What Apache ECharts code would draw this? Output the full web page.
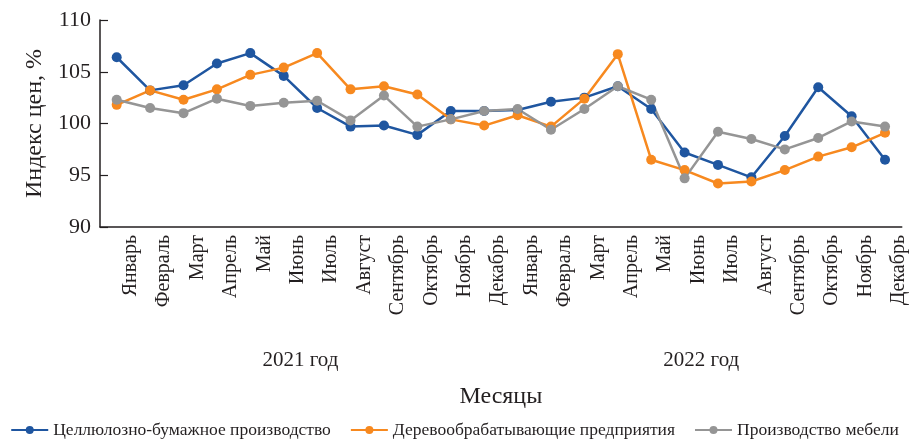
<!DOCTYPE html>
<html>
<head>
<meta charset="utf-8">
<script src="https://cdn.jsdelivr.net/npm/echarts@6/dist/echarts.min.js"></script>
<style>html,body{margin:0;padding:0;background:#fff}#c{width:909px;height:442px}</style>
</head>
<body>
<div id="c"></div>
<script>
var months = ['Январь','Февраль','Март','Апрель','Май','Июнь','Июль','Август','Сентябрь','Октябрь','Ноябрь','Декабрь',
              'Январь','Февраль','Март','Апрель','Май','Июнь','Июль','Август','Сентябрь','Октябрь','Ноябрь','Декабрь'];
var years = ['2021 год','2022 год'];
var yTicks = [90, 95, 100, 105, 110];
var pulpPaper = [106.4,103.2,103.7,105.8,106.8,104.6,101.5,99.7,99.8,98.9,101.2,101.2,
                 101.3,102.1,102.5,103.6,101.4,97.2,96.0,94.8,98.8,103.5,100.7,96.5];
var woodworking = [101.8,103.2,102.3,103.3,104.7,105.4,106.8,103.3,103.6,102.8,100.4,99.8,
                   100.8,99.7,102.4,106.7,96.5,95.5,94.2,94.4,95.5,96.8,97.7,99.1];
var furniture = [102.3,101.5,101.0,102.4,101.7,102.0,102.2,100.3,102.7,99.7,100.4,101.2,
                 101.4,99.4,101.4,103.6,102.3,94.7,99.2,98.5,97.5,98.6,100.2,99.7];
var seriesNames = ['Целлюлозно-бумажное производство','Деревообрабатывающие предприятия','Производство мебели'];
var colors = ['#1f56a0','#f7891f','#959595'];

var font = 'Liberation Serif, Times New Roman, serif';
var chart = echarts.init(document.getElementById('c'));
function mk(name, data, color) {
  return {name: name, type: 'line', data: data, color: color, symbol: 'circle', symbolSize: 10,
    lineStyle: {width: 2.5, color: color}, itemStyle: {color: color}, z: 3};
}
chart.setOption({
  animation: false,
  textStyle: {fontFamily: font, color: '#231f20'},
  grid: {left: 100, right: 6, top: 20, bottom: 215, containLabel: false},
  legend: {
    top: 416, left: 'center', itemWidth: 37, itemHeight: 10, itemGap: 19,
    textStyle: {fontFamily: font, fontSize: 17.5, color: '#231f20'},
    data: seriesNames
  },
  xAxis: [{
    type: 'category', data: months, boundaryGap: true,
    axisLine: {lineStyle: {color: '#231f20', width: 1.5}},
    axisTick: {inside: true, length: 8, lineStyle: {color: '#231f20', width: 1.2}},
    axisLabel: {rotate: 90, interval: 0, margin: 8, fontSize: 20, fontFamily: font, color: '#231f20',
      verticalAlign: 'top', padding: [4, 0, 0, 0]},
    name: 'Месяцы', nameLocation: 'middle', nameGap: 158,
    nameTextStyle: {fontFamily: font, fontSize: 24, color: '#231f20'}
  }, {
    type: 'category', data: years, position: 'bottom', offset: 0,
    axisLine: {show: false}, axisTick: {show: false},
    axisLabel: {margin: 123, fontSize: 21, fontFamily: font, color: '#231f20'}
  }],
  yAxis: {
    type: 'value', min: 90, max: 110, interval: 5,
    axisLine: {show: true, lineStyle: {color: '#231f20', width: 1.5}},
    axisTick: {show: true, inside: true, length: 8, lineStyle: {color: '#231f20', width: 1.2}},
    splitLine: {show: false},
    axisLabel: {fontSize: 22, fontFamily: font, color: '#231f20', margin: 9,
      formatter: function (v) { return yTicks.indexOf(v) >= 0 ? String(v) : ''; }},
    name: 'Индекс цен, %', nameLocation: 'middle', nameGap: 50,
    nameTextStyle: {fontFamily: font, fontSize: 24, color: '#231f20'}
  },
  series: [
    mk(seriesNames[0], pulpPaper, colors[0]),
    mk(seriesNames[1], woodworking, colors[1]),
    mk(seriesNames[2], furniture, colors[2])
  ]
});
</script>
</body>
</html>
